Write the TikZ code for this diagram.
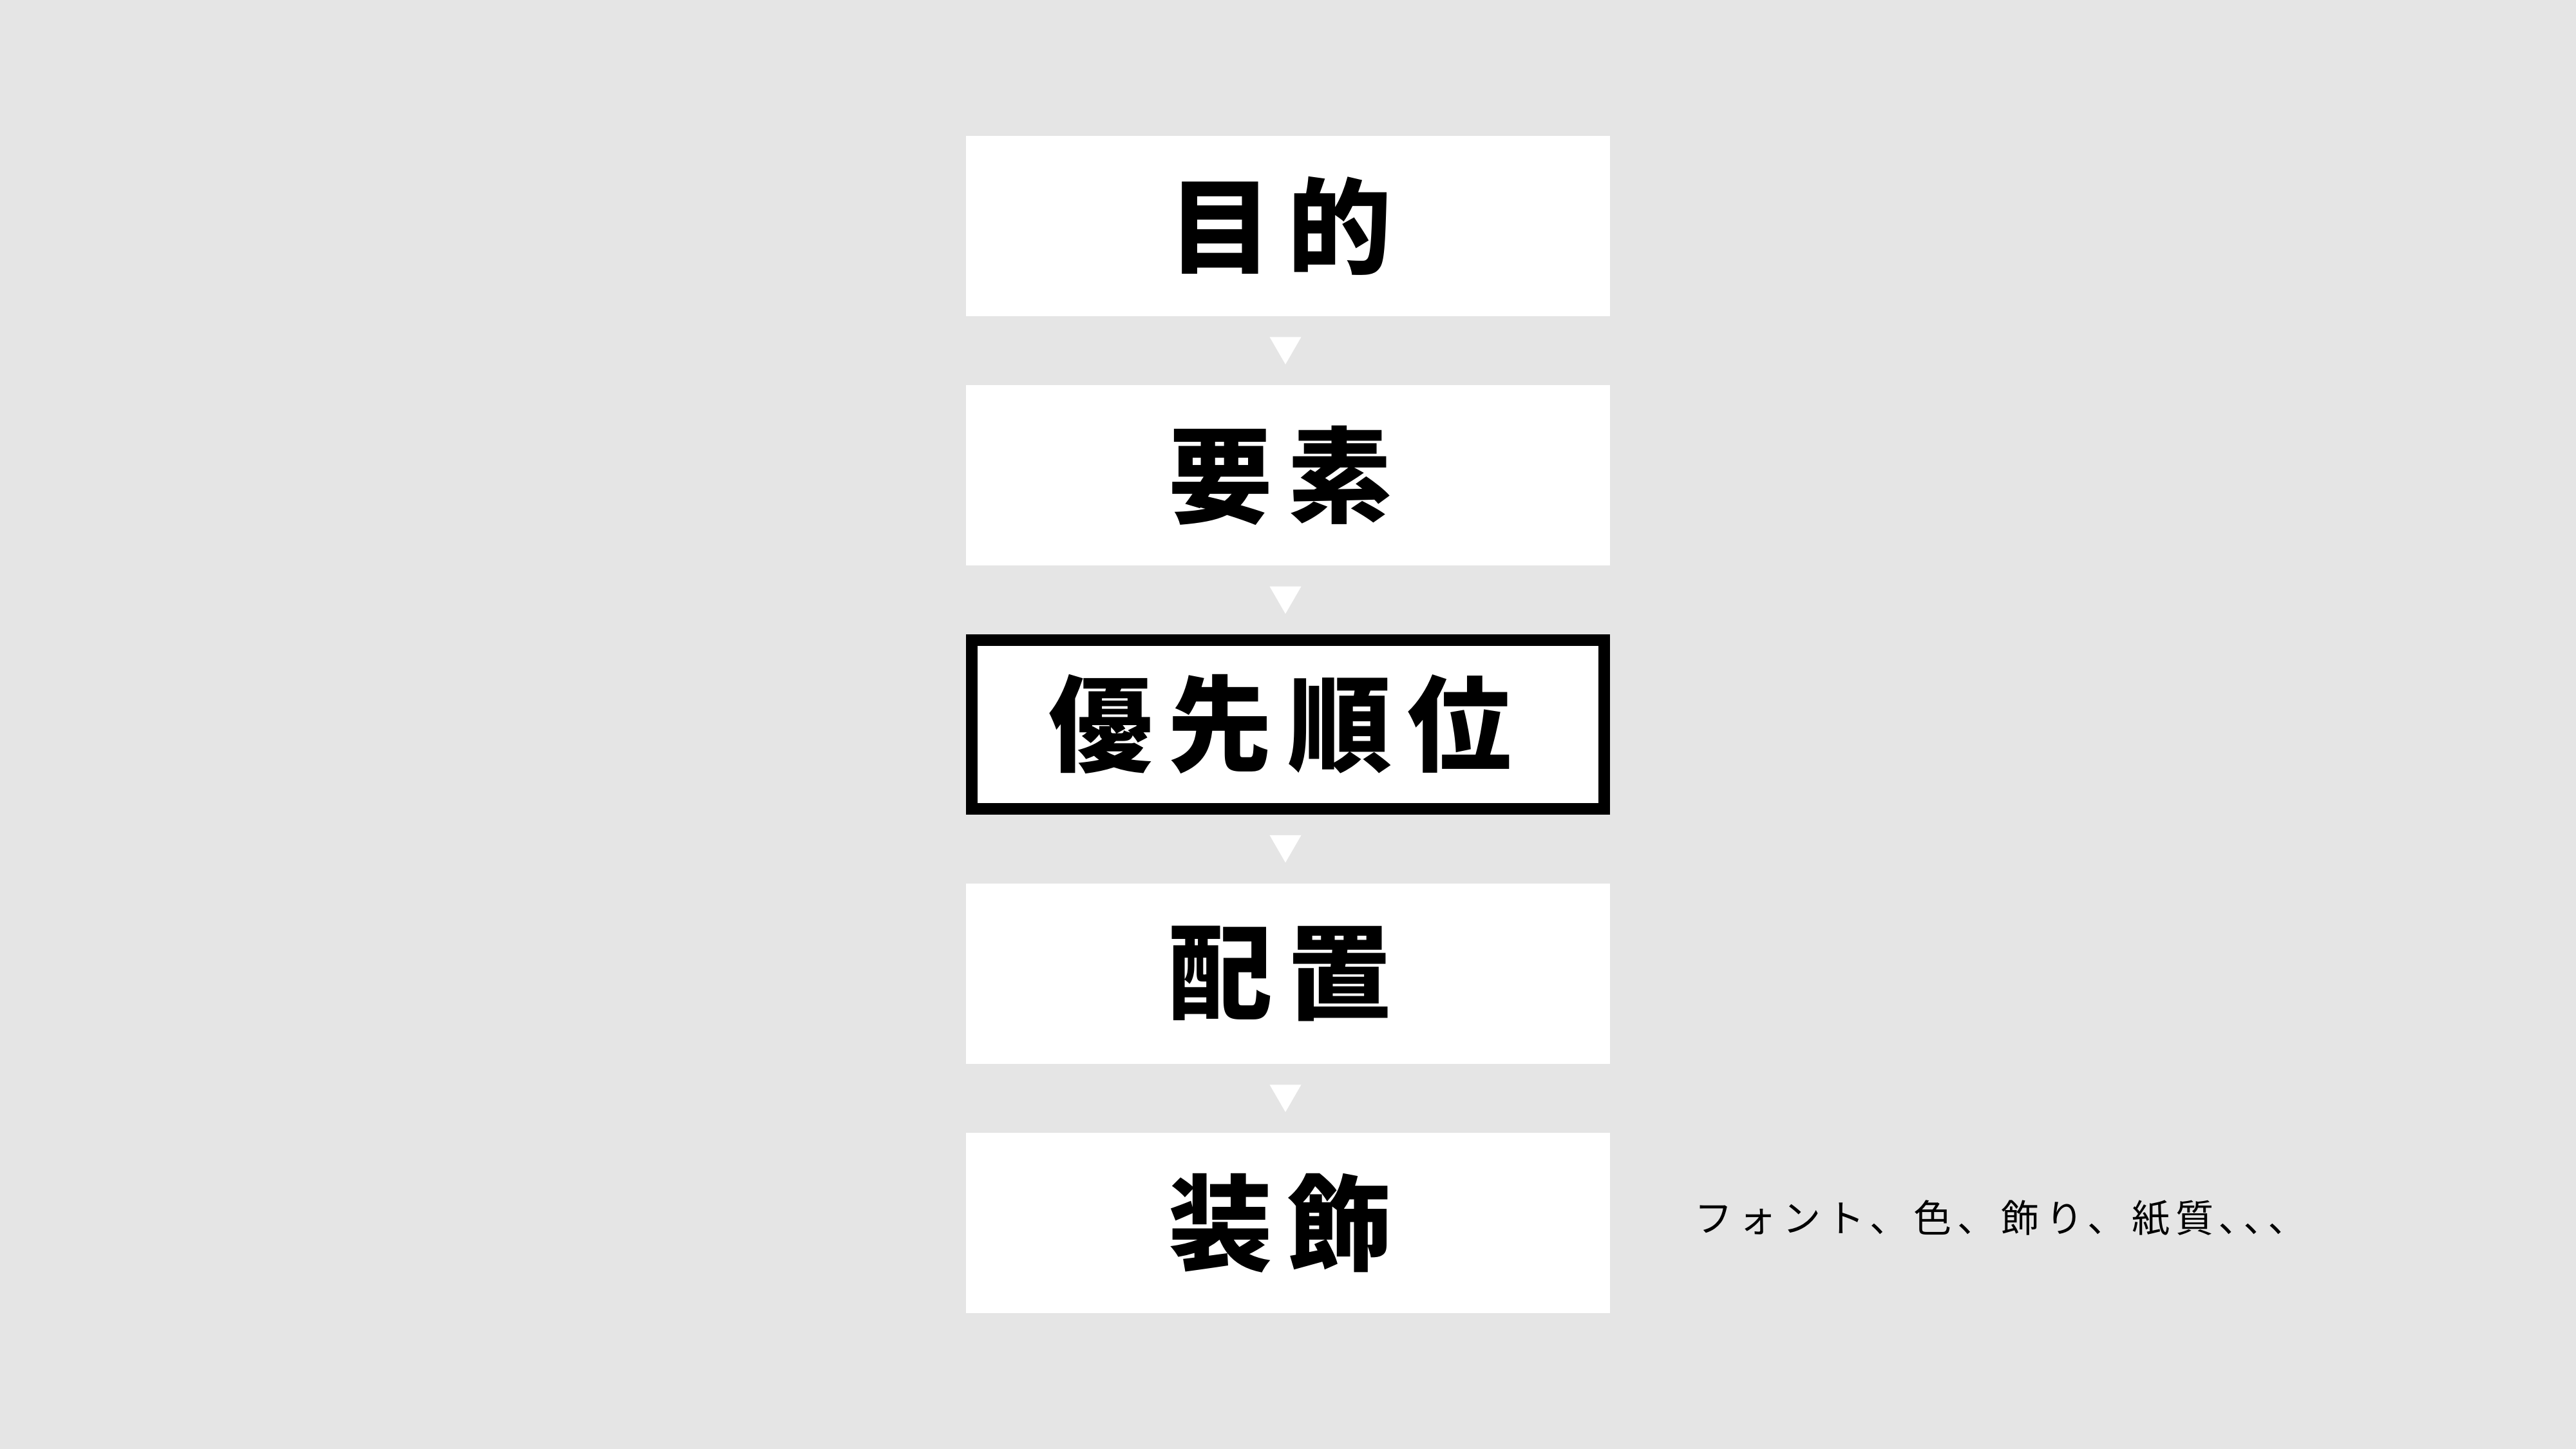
\documentclass[tikz,border=0pt]{standalone}
\usepackage{fontspec}
\usepackage{tikz}
\usetikzlibrary{shapes.geometric}
\newfontfamily\jpbig[LetterSpace=15]{Noto Sans CJK JP}
\newfontfamily\jpsmall[LetterSpace=15.5]{Noto Sans CJK JP}
\definecolor{bggray}{RGB}{229,229,229}

\begin{document}
\begin{tikzpicture}[
        stepbox/.style={fill=white,inner sep=0pt,minimum width=10cm,minimum height=2.8cm,
            font=\jpbig\bfseries\fontsize{46pt}{50pt}\selectfont,execute at end node={\kern6.9pt}},
        keybox/.style={stepbox,draw=black,line width=0.18cm,minimum width=9.82cm,minimum height=2.62cm},
        tri/.style={regular polygon,regular polygon sides=3,shape border rotate=180,
            fill=white,inner sep=0pt,minimum size=0.566cm,xshift=-0.04cm,yshift=0.07cm},
        notetext/.style={inner sep=0pt,anchor=west,font=\jpsmall\fontsize{16.8pt}{20pt}\selectfont}
    ]
        \fill[bggray] (0,0) rectangle (40,22.5);
        \node[stepbox] (mokuteki) at (20,18.99) {目的};
        \node[stepbox] (yoso) at (20,15.12) {要素};
        \node[keybox] (yusen) at (20,11.25) {優先順位};
        \node[stepbox] (haichi) at (20,7.38) {配置};
        \node[stepbox] (soshoku) at (20,3.51) {装飾};
        \node[notetext] (note) at (26.31,3.58) {フォント、色、飾り、紙質､､､};
        \path (mokuteki) -- node[tri] (t1) {} (yoso);
        \path (yoso) -- node[tri] (t2) {} (yusen);
        \path (yusen) -- node[tri] (t3) {} (haichi);
        \path (haichi) -- node[tri] (t4) {} (soshoku);
    \end{tikzpicture}
\end{document}
